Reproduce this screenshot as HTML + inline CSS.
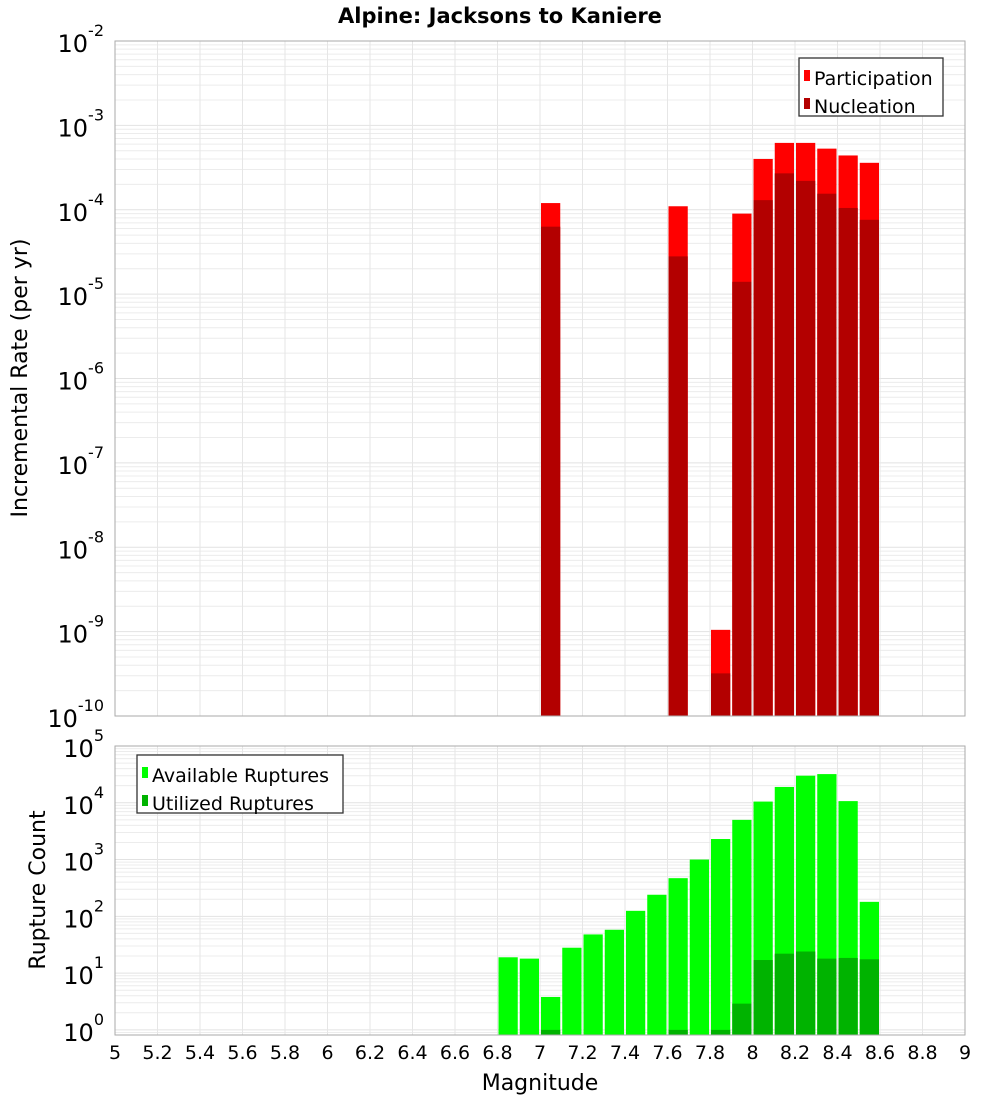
<!DOCTYPE html>
<html><head><meta charset="utf-8"><style>
body{margin:0;background:#fff;}
text{font-family:"DejaVu Sans","Liberation Sans",sans-serif;}
</style></head><body>
<svg id="chart" width="1000" height="1100" xmlns="http://www.w3.org/2000/svg">
<text x="500" y="23" text-anchor="middle" font-size="21" font-weight="bold">Alpine: Jacksons to Kaniere</text>
<g id="g"></g>
</svg>
<script>
const mags=[6.85,6.95,7.05,7.15,7.25,7.35,7.45,7.55,7.65,7.75,7.85,7.95,8.05,8.15,8.25,8.35,8.45,8.55];
const participation=[0,0,1.2e-4,0,0,0,0,0,1.1e-4,0,1.05e-9,9e-5,4e-4,6.2e-4,6.2e-4,5.3e-4,4.4e-4,3.6e-4];
const nucleation=[0,0,6.3e-5,0,0,0,0,0,2.8e-5,0,3.2e-10,1.4e-5,1.3e-4,2.7e-4,2.2e-4,1.55e-4,1.05e-4,7.6e-5];
const available=[19,18,3.8,28,48,58,125,240,470,1000,2300,5000,10500,19000,30000,32000,10700,180];
const utilized=[0,0,1,0,0,0,0,0,1,0,1,2.9,17,22,24,18,18.5,17.5];
const xTicks=["5","5.2","5.4","5.6","5.8","6","6.2","6.4","6.6","6.8","7","7.2","7.4","7.6","7.8","8","8.2","8.4","8.6","8.8","9"];
const NS="http://www.w3.org/2000/svg";
const g=document.getElementById('g');
function el(t,a,p){const e=document.createElementNS(NS,t);for(const k in a)e.setAttribute(k,a[k]);(p||g).appendChild(e);return e;}
const X0=115,X1=965;
const xs=m=>X0+(m-5)*(X1-X0)/4;
const pTop={t:41,b:716,lo:-10,hi:-2}, pBot={t:746,b:1035,lo:-0.09,hi:5};
const ys=(p,v)=>p.b-(Math.log10(v)-p.lo)/(p.hi-p.lo)*(p.b-p.t);
function panel(p,name){
  const r=el('rect',{x:X0,y:p.t,width:X1-X0,height:p.b-p.t,fill:'#fff'});
  
  
  for(let d=Math.floor(p.lo);d<p.hi;d++){for(let k=1;k<10;k++){const v=Math.pow(10,d)*k;const lv=Math.log10(v);if(lv<p.lo||lv>p.hi)continue;const y=ys(p,v);
    const l=el('line',{x1:X0,x2:X1,y1:y,y2:y,stroke:k==1?'#e2e2e2':'#ececec','stroke-width':1});
    
    }}
  xTicks.forEach(t=>{const x=xs(+t);const l=el('line',{x1:x,x2:x,y1:p.t,y2:p.b,stroke:'#e6e6e6'});
    
    });
  for(let d=Math.ceil(p.lo);d<=p.hi;d++){const y=ys(p,Math.pow(10,d));
    const t=el('text',{x:104,y:y+11,'text-anchor':'end','font-size':24});
    
    
    t.textContent='10';const s=el('tspan',{dy:-16,'font-size':16},t);s.textContent=String(d);}
}
function bars(p,vals,color,name){vals.forEach((v,i)=>{if(!(v>0))return;const y=Math.max(p.t,ys(p,v));
  const r=el('rect',{x:xs(mags[i]-0.05)+1,y:y,width:xs(0.1+5)-X0-2,height:p.b-y,fill:color});
  
  });}
panel(pTop,'rate');bars(pTop,participation,'#ff0000','participation');bars(pTop,nucleation,'#b30000','nucleation');
panel(pBot,'count');bars(pBot,available,'#00ff00','available');bars(pBot,utilized,'#00b300','utilized');
[pTop,pBot].forEach(p=>{const r=el('rect',{x:X0,y:p.t,width:X1-X0,height:p.b-p.t,fill:'none',stroke:'#aaa'});
  
  });
xTicks.forEach(t=>{const e=el('text',{x:xs(+t),y:1059,'text-anchor':'middle','font-size':19});
  
  
  e.textContent=t;});
let e=el('text',{x:540,y:1090,'text-anchor':'middle','font-size':22});


e.textContent='Magnitude';
e=el('text',{x:0,y:0,'text-anchor':'middle','font-size':22,transform:'translate(27,378) rotate(-90)'});


e.textContent='Incremental Rate (per yr)';
e=el('text',{x:0,y:0,'text-anchor':'middle','font-size':22,transform:'translate(45,890) rotate(-90)'});


e.textContent='Rupture Count';
function legend(x,y,w,items,name){const b=el('rect',{x:x,y:y,width:w,height:58,fill:'#fff',stroke:'#333','stroke-width':1.3});
  
  
  items.forEach((it,i)=>{const yy=y+20+i*28;const s=el('rect',{x:x+5,y:yy-8,width:6,height:11,fill:it[1]});
    
    
    const t=el('text',{x:x+15,y:yy+7,'font-size':19});
    
    
    t.textContent=it[0];});}
legend(799,58,144,[['Participation','#ff0000'],['Nucleation','#b30000']],'rate-legend');
legend(137,755,206,[['Available Ruptures','#00ff00'],['Utilized Ruptures','#00b300']],'count-legend');
</script>
</body></html>
